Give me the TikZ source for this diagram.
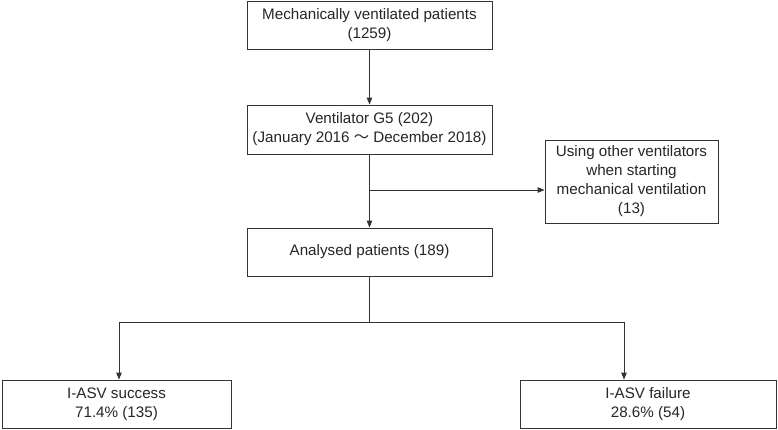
\documentclass[tikz,border=0pt]{standalone}
\usepackage{fontspec}
\setmainfont{Liberation Sans}
\newfontfamily\cjkfont{Noto Sans CJK JP}
\usetikzlibrary{arrows.meta}
\begin{document}
\begin{tikzpicture}[x=1pt,y=-1pt,
  box/.style={draw=black!80,line width=0.9pt,fill=white,inner sep=0pt,align=center,
    font=\fontsize{15.2}{19}\selectfont,text=black!85},
  conn/.style={draw=black!80,line width=0.9pt},
  arr/.style={conn,-{Triangle[length=7pt,width=5.5pt]}}]
\useasboundingbox (0,0) rectangle (778,429);
\node[box,minimum width=245pt,minimum height=48pt] (b1) at (369.5,25) {Mechanically ventilated patients\\(1259)};
\node[box,minimum width=245pt,minimum height=49pt] (b2) at (369.5,129.5) {Ventilator G5 (202)\\(January 2016 {\cjkfont 〜} December 2018)};
\node[box,minimum width=173pt,minimum height=83pt] (b3) at (631.5,181.5) {Using other ventilators\\when starting\\mechanical ventilation\\(13)};
\node[box,minimum width=245pt,minimum height=48pt] (b4) at (369.5,252) {Analysed patients (189)};
\node[box,minimum width=229pt,minimum height=48pt] (b5) at (116.5,404) {I-ASV success\\71.4\% (135)};
\node[box,minimum width=256pt,minimum height=48pt] (b6) at (648,404) {I-ASV failure\\28.6\% (54)};
\coordinate (j1) at (369.5,190);
\coordinate (j2) at (369.5,322);
\coordinate (l1) at (119,322);
\coordinate (r1) at (624,322);
\draw[arr] (b1.south) -- (b2.north);
\draw[arr] (b2.south) -- (b4.north);
\draw[arr] (j1) -- (b3.west |- j1);
\draw[conn] (b4.south) -- (j2);
\draw[arr] (j2) -- (l1) -- (l1 |- b5.north);
\draw[arr] (j2) -- (r1) -- (r1 |- b6.north);
\end{tikzpicture}
\end{document}
